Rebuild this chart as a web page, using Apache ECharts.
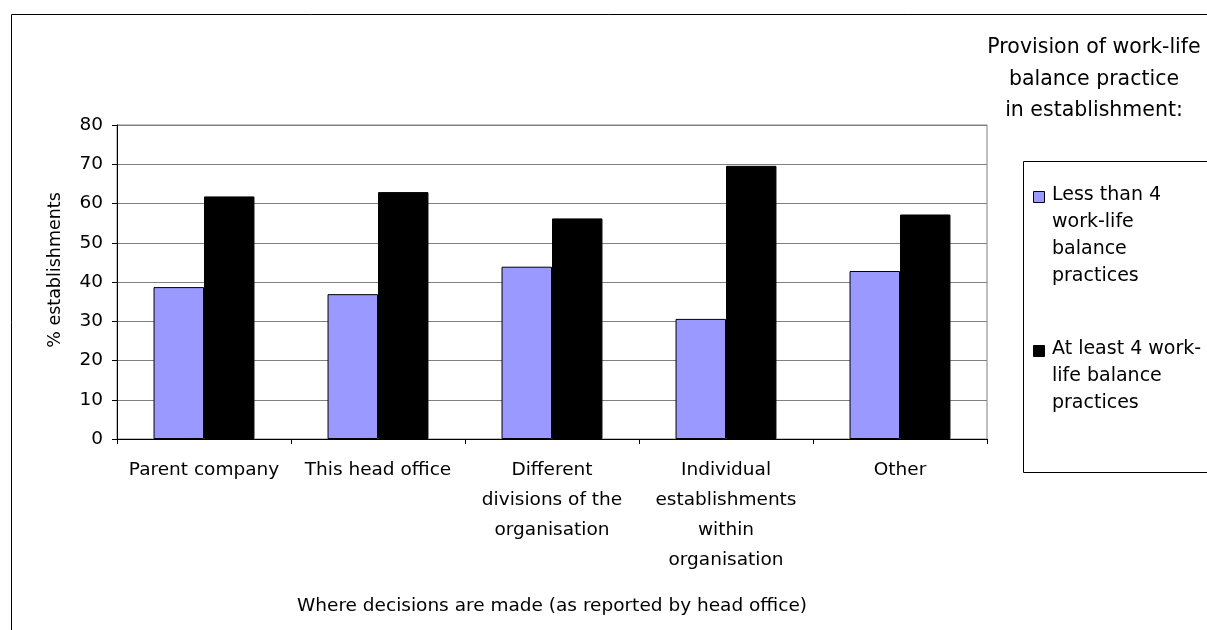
<!DOCTYPE html>
<html>
<head>
<meta charset="utf-8">
<title>Where decisions are made</title>
<script src="https://cdn.jsdelivr.net/npm/echarts@6/dist/echarts.min.js"></script>
<style>
  html, body { margin: 0; padding: 0; background: #ffffff; }
  #chart { width: 1207px; height: 630px; }
</style>
</head>
<body>
<div id="chart"></div>
<script>
// Where work-life balance decisions are made, by number of practices provided
const categories = [
  'Parent company',
  'This head office',
  'Different\ndivisions of the\norganisation',
  'Individual\nestablishments\nwithin\norganisation',
  'Other'
];
const lessThan4 = [38.7, 36.9, 43.9, 30.6, 42.8];
const atLeast4 = [61.8, 62.9, 56.2, 69.6, 57.2];
const seriesNames = [
  'Less than 4\nwork-life\nbalance\npractices',
  'At least 4 work-\nlife balance\npractices'
];
const seriesColors = ['#9999ff', '#000000'];
const yMin = 0;
const yMax = 80;
const yStep = 10;

const FONT = 'DejaVu Sans, Arial, sans-serif';

const chart = echarts.init(document.getElementById('chart'), null, { renderer: 'canvas' });

// legend entries: swatch aligned with the first line of each wrapped label
const legendTops = [182, 336];
const legendGraphics = [];
seriesNames.forEach((name, i) => {
  legendGraphics.push({
    type: 'rect',
    shape: { x: 1033.5, y: legendTops[i] + 9.5, width: 11, height: 11 },
    style: { fill: seriesColors[i], stroke: '#000000', lineWidth: 1 }
  });
  legendGraphics.push({
    type: 'text',
    x: 1052,
    y: legendTops[i],
    style: {
      text: name,
      font: '19px ' + FONT,
      fill: '#000000',
      lineHeight: 27,
      align: 'left',
      verticalAlign: 'top'
    }
  });
});

const option = {
  backgroundColor: '#ffffff',
  animation: false,
  textStyle: { fontFamily: FONT, color: '#000000' },
  grid: {
    left: 117,
    right: 220,
    top: 125,
    bottom: 191,
    show: true,
    borderColor: '#808080',
    borderWidth: 1,
    containLabel: false
  },
  xAxis: {
    type: 'category',
    data: categories,
    boundaryGap: true,
    axisLine: { lineStyle: { color: '#000000', width: 1 } },
    axisTick: { show: true, length: 5, lineStyle: { color: '#000000' } },
    axisLabel: {
      interval: 0,
      margin: 16,
      fontSize: 18.5,
      lineHeight: 30,
      color: '#000000',
      fontFamily: FONT
    },
    name: 'Where decisions are made (as reported by head office)',
    nameLocation: 'middle',
    nameGap: 156,
    nameTextStyle: { fontSize: 18.5, lineHeight: 22, color: '#000000', fontFamily: FONT }
  },
  yAxis: {
    type: 'value',
    min: yMin,
    max: yMax,
    interval: yStep,
    axisLine: { show: true, lineStyle: { color: '#000000', width: 1 } },
    axisTick: { show: true, length: 5, lineStyle: { color: '#000000' } },
    axisLabel: { margin: 14, fontSize: 18.5, color: '#000000', fontFamily: FONT },
    splitLine: { show: true, lineStyle: { color: '#808080', width: 1 } }
  },
  series: [
    {
      name: 'Less than 4 work-life balance practices',
      type: 'bar',
      data: lessThan4,
      barGap: '0%',
      barCategoryGap: '42%',
      itemStyle: { color: seriesColors[0], borderColor: '#000000', borderWidth: 1 }
    },
    {
      name: 'At least 4 work-life balance practices',
      type: 'bar',
      data: atLeast4,
      barGap: '0%',
      barCategoryGap: '42%',
      itemStyle: { color: seriesColors[1], borderColor: '#000000', borderWidth: 1 }
    }
  ],
  graphic: [
    // chart frame
    {
      type: 'rect',
      shape: { x: 11.5, y: 14.5, width: 1400, height: 800 },
      style: { fill: 'none', stroke: '#000000', lineWidth: 1 },
      silent: true
    },
    // y-axis title
    {
      type: 'text',
      x: 55,
      y: 270,
      rotation: Math.PI / 2,
      style: {
        text: '% establishments',
        font: '17.5px ' + FONT,
        fill: '#000000',
        align: 'center',
        verticalAlign: 'middle'
      }
    },
    // legend heading
    {
      type: 'text',
      x: 1094,
      y: 32,
      style: {
        text: 'Provision of work-life\nbalance practice\nin establishment:',
        font: '20.5px ' + FONT,
        fill: '#000000',
        lineHeight: 31.5,
        align: 'center',
        verticalAlign: 'top'
      }
    },
    // legend frame
    {
      type: 'rect',
      shape: { x: 1023.5, y: 161.5, width: 300, height: 311 },
      style: { fill: 'none', stroke: '#000000', lineWidth: 1 },
      silent: true
    }
  ].concat(legendGraphics)
};

chart.setOption(option);
</script>
</body>
</html>
